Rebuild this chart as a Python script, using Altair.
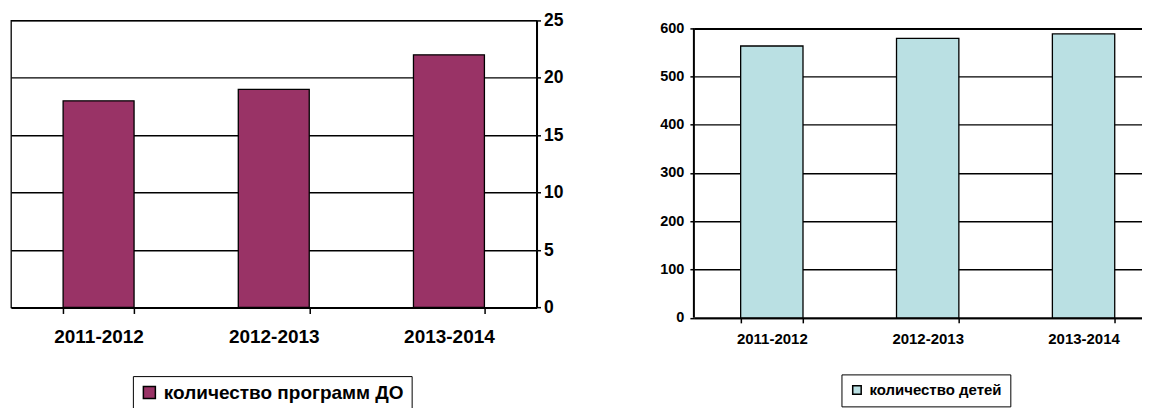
import altair as alt
import pandas as pd

years = ["2011-2012", "2012-2013", "2013-2014"]
programs = [18, 19, 22]
children = [563, 579, 588]
prog_label = "количество программ ДО"
child_label = "количество детей"
prog_ticks = [0, 5, 10, 15, 20, 25]
child_ticks = [0, 100, 200, 300, 400, 500, 600]

FONT = "Liberation Sans"
PROG_COLOR = "#993366"
CHILD_COLOR = "#BAE0E3"

df1 = pd.DataFrame({"year": years, "value": programs, "series": [prog_label] * len(years)})
df2 = pd.DataFrame({"year": years, "value": children, "series": [child_label] * len(years)})
df2_axis = pd.DataFrame({"lo": [child_ticks[0]], "hi": [child_ticks[-1]]})

# ---------------- left panel ----------------
left = alt.Chart(df1).mark_bar(stroke="black", strokeWidth=1.3).encode(
    x=alt.X(
        "year:N", sort=years, title=None,
        scale=alt.Scale(paddingInner=0.595, paddingOuter=0.2975),
        axis=alt.Axis(
            orient="bottom", labelAngle=0, tickBand="extent", tickSize=6,
            tickColor="black", tickWidth=1.5, domain=True, domainColor="black",
            domainWidth=2, labelFont=FONT, labelFontSize=19, labelFontWeight="bold",
            labelColor="black", labelPadding=14, grid=False,
        ),
    ),
    y=alt.Y(
        "value:Q", title=None,
        scale=alt.Scale(domain=[0, 25], nice=False),
        axis=alt.Axis(
            orient="right", values=prog_ticks, grid=True, gridColor="black",
            gridWidth=1.4, gridOpacity=1, tickSize=4, tickColor="black", tickWidth=1.5,
            domain=True, domainColor="black", domainWidth=2, labelFont=FONT,
            labelFontSize=17.5, labelFontWeight="bold", labelColor="black",
            labelPadding=3,
        ),
    ),
    color=alt.Color(
        "series:N",
        scale=alt.Scale(domain=[prog_label], range=[PROG_COLOR]),
        legend=alt.Legend(
            title=None, orient="none", legendX=122, legendY=356,
            strokeColor="black", fillColor="white", padding=7,
            symbolType="square", symbolSize=144, symbolStrokeColor="black",
            symbolStrokeWidth=1.5, symbolOpacity=1, labelOffset=5, labelLimit=600,
            labelExpr="datum.label + '\u00a0\u00a0'",
            labelFont=FONT, labelFontSize=19, labelFontWeight="bold",
            labelColor="black",
        ),
    ),
).properties(
    width=526, height=287.3,
    view=alt.ViewBackground(stroke="black", strokeWidth=1.3),
)

# ---------------- right panel ----------------
xscale_r = alt.Scale(paddingInner=0.6, paddingOuter=0.3)
yscale_r = alt.Scale(domain=[0, 616], nice=False)
xaxis_r = alt.Axis(
    orient="bottom", labelAngle=0, tickBand="extent",
    tickSize=5, tickColor="black", tickWidth=1.5,
    domain=True, domainColor="black", domainWidth=2, grid=False,
    labelFont=FONT, labelFontSize=15, labelFontWeight="bold",
    labelColor="black", labelPadding=9,
)
yaxis_r = alt.Axis(
    orient="left", values=child_ticks, grid=True, gridColor="black",
    gridWidth={"condition": {"test": "datum.value === 600", "value": 2}, "value": 1.4},
    gridOpacity=1, tickSize=4, tickColor="black", tickWidth=1.5,
    domain=False, labelFont=FONT, labelFontSize=14.5, labelFontWeight="bold",
    labelColor="black", labelPadding=6,
)

bars_r = alt.Chart(df2).mark_bar(stroke="black", strokeWidth=1.3).encode(
    x=alt.X("year:N", sort=years, title=None, scale=xscale_r, axis=xaxis_r),
    y=alt.Y("value:Q", title=None, scale=yscale_r, axis=yaxis_r),
    color=alt.Color(
        "series:N",
        scale=alt.Scale(domain=[child_label], range=[CHILD_COLOR]),
        legend=alt.Legend(
            title=None, orient="none", legendX=147.7, legendY=354.3,
            strokeColor="black", fillColor="white", padding=8,
            symbolType="square", symbolSize=72, symbolStrokeColor="black",
            symbolStrokeWidth=1.5, symbolOpacity=1, labelOffset=5, labelLimit=600,
            labelExpr="datum.label + '\u00a0\u00a0'",
            labelFont=FONT, labelFontSize=15, labelFontWeight="bold",
            labelColor="black",
        ),
    ),
)

axis_line_r = alt.Chart(df2_axis).mark_rule(color="black", strokeWidth=2).encode(
    x=alt.value(0),
    y=alt.Y("lo:Q", title=None, scale=yscale_r, axis=yaxis_r),
    y2="hi:Q",
)

right = alt.layer(bars_r, axis_line_r).properties(width=468, height=297.7)

chart = (
    alt.hconcat(left, right, spacing=94.5)
    .resolve_scale(color="independent", x="independent", y="independent")
    .resolve_legend(color="independent")
    .properties(
        padding={"left": 2, "top": 2.25, "right": -20, "bottom": 0},
        background="white",
    )
    .configure_view(strokeWidth=0)
)

chart.save("out.html", embed_options={"renderer": "svg", "actions": False})
